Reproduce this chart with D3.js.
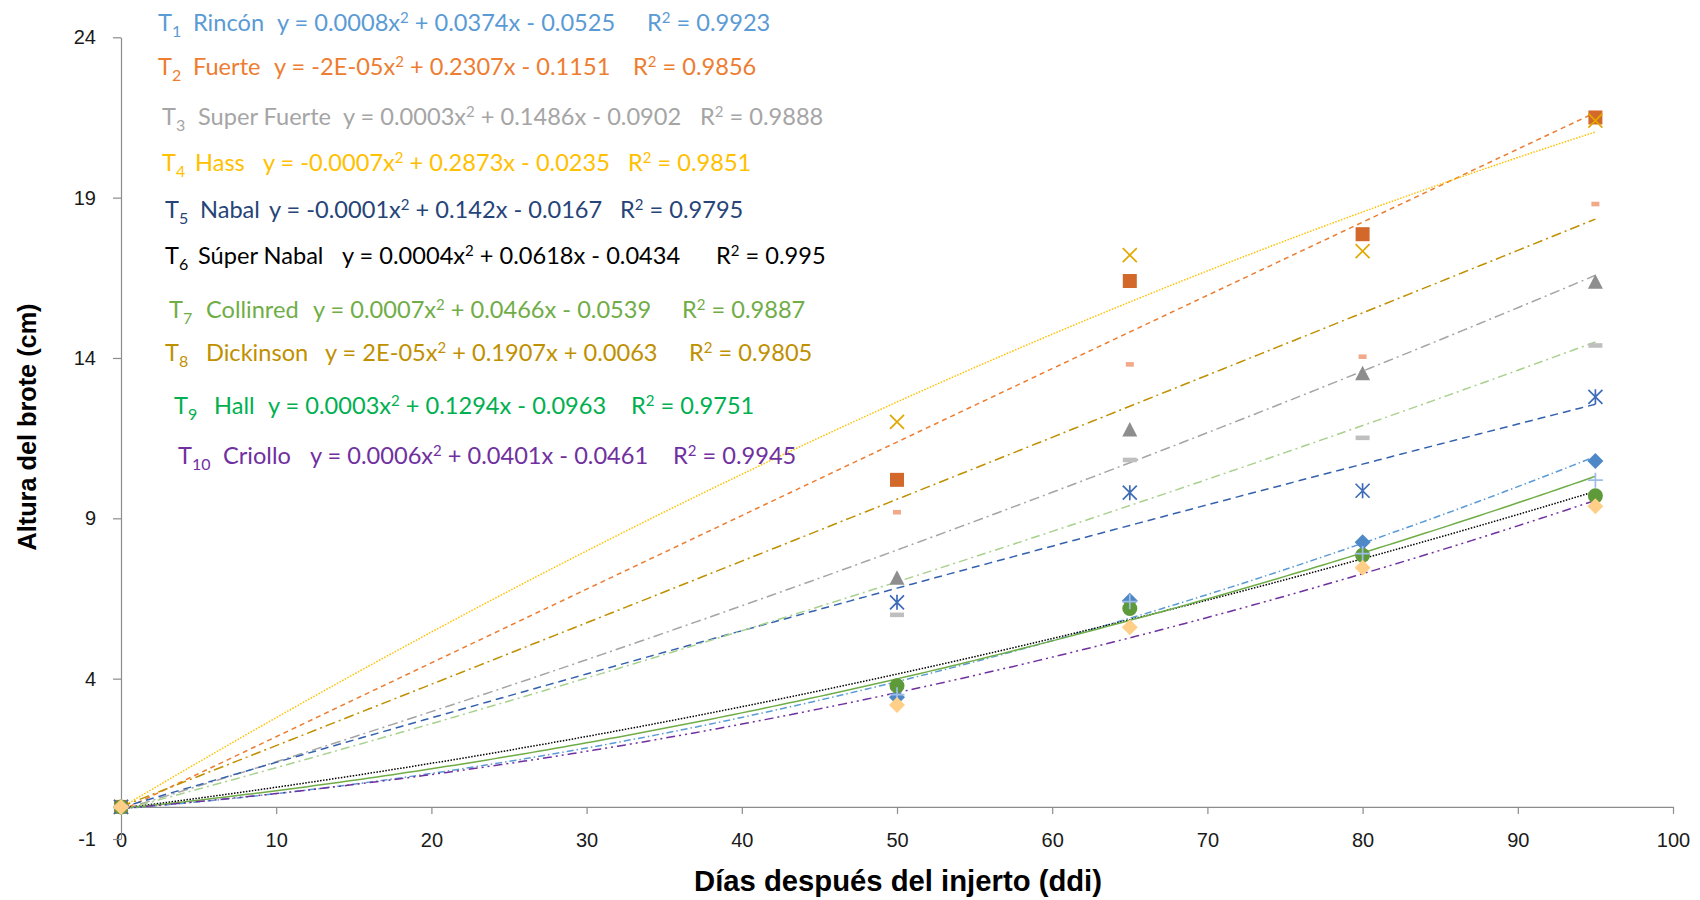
<!DOCTYPE html>
<html>
<head>
<meta charset="utf-8">
<script src="https://cdn.jsdelivr.net/npm/d3@7"></script>
<style>
body { margin: 0; background: #fff; }
svg { display: block; }
.tick text { font-family: "Liberation Sans", Arial, sans-serif; font-size: 20px; fill: #1a1a1a; }
.axisTitle { font-family: "Liberation Sans", Arial, sans-serif; font-weight: bold; fill: #000; }
.eq { font-family: Lato, "Noto Sans", sans-serif; font-size: 23.6px; white-space: pre; }
</style>
</head>
<body>
<svg id="chart" width="1700" height="900"></svg>
<script>

// ---- data ----
var days = [0, 50, 65, 80, 95];

var t1Rincon = [0, 3.42, 6.43, 8.25, 10.79];
var t2Fuerte = [0, 10.20, 16.40, 17.86, 21.50];
var t3SuperFuerte = [0, 7.15, 11.77, 13.52, 16.38];
var t4Hass = [0, 12.01, 17.21, 17.33, 21.40];
var t5Nabal = [0, 6.38, 9.80, 9.86, 12.79];
var t6SuperNabal = [0, 3.78, 6.19, 7.85, 9.70];
var t7Collinred = [0, 3.50, 6.40, 7.90, 10.19];
var t8Dickinson = [0, 9.19, 13.80, 14.04, 18.80];
var t9Hall = [0, 5.99, 10.82, 11.51, 14.39];
var t10Criollo = [0, 3.18, 5.60, 7.46, 9.38];

var seriesValues = [ t1Rincon, t2Fuerte, t3SuperFuerte, t4Hass, t5Nabal,
		t6SuperNabal, t7Collinred, t8Dickinson, t9Hall, t10Criollo ];

var seriesNames = [ "Rincón", "Fuerte", "Super Fuerte", "Hass", "Nabal",
		"Súper Nabal", "Collinred", "Dickinson", "Hall", "Criollo" ];

var equations = [ "y = 0.0008x^2 + 0.0374x - 0.0525",
		"y = -2E-05x^2 + 0.2307x - 0.1151",
		"y = 0.0003x^2 + 0.1486x - 0.0902",
		"y = -0.0007x^2 + 0.2873x - 0.0235",
		"y = -0.0001x^2 + 0.142x - 0.0167",
		"y = 0.0004x^2 + 0.0618x - 0.0434",
		"y = 0.0007x^2 + 0.0466x - 0.0539",
		"y = 2E-05x^2 + 0.1907x + 0.0063",
		"y = 0.0003x^2 + 0.1294x - 0.0963",
		"y = 0.0006x^2 + 0.0401x - 0.0461" ];

var rSquared = [ "0.9923", "0.9856", "0.9888", "0.9851", "0.9795", "0.995",
		"0.9887", "0.9805", "0.9751", "0.9945" ];

var xTicks = [ 0, 10, 20, 30, 40, 50, 60, 70, 80, 90, 100 ];
var yTicks = [ -1, 4, 9, 14, 19, 24 ];

// ---- styles ----
var markerShapes = [ "diamond", "square", "triangle", "x", "star", "circle",
		"plus", "dashShort", "dashLong", "diamond" ];
var markerColors = [ "#4f88c6", "#d2692b", "#8e8e8e", "#e3a800", "#3e6cb8",
		"#5e9a3a", "#9dbde6", "#f2a98a", "#bfbfbf", "#ffcf87" ];
var lineColors = [ "#5b9bd5", "#ed7d31", "#a5a5a5", "#ffc000", "#3461ad",
		"#000000", "#70ad47", "#bf9000", "#a9d18e", "#7030a0" ];
var lineDash = [ "7,3,1.5,3", "5,4", "10,4,2,4", "1.5,1.5", "8,5", "1.5,1.5",
		null, "10,4,2,4", "9,4,2,4", "9,4,2,4,2,4" ];
var labelColors = [ "#5b9bd5", "#ed7d31", "#a5a5a5", "#ffc000", "#264478",
		"#000000", "#70ad47", "#bf9000", "#00b050", "#7030a0" ];

// label layout: [centre y, x of T, x of name, x of equation, x of R2]
var labelLayout = [ [ 23, 158, 193, 277, 647 ], [ 67, 158, 193, 274, 633 ],
		[ 117, 162, 198, 343, 700 ], [ 163, 162, 195, 263, 628 ],
		[ 210, 165, 200, 269, 620 ], [ 256, 165, 198, 342, 716 ],
		[ 310, 169, 206, 313, 682 ], [ 353, 165, 206, 325, 689 ],
		[ 406, 174, 214, 268, 631 ], [ 456, 178, 223, 310, 673 ] ];

var svg = d3.select("#chart");

var x = d3.scaleLinear().domain([ 0, 100 ]).range([ 121, 1673 ]);
var y = d3.scaleLinear().domain([ -1, 24 ]).range([ 839, 37.3 ]);

// least squares quadratic, what the spreadsheet trendline does
function polyFit2(xs, ys) {

	var s = [ 0, 0, 0, 0, 0 ], t = [ 0, 0, 0 ];
	xs.forEach(function(xi, i) {
		for ( var k = 0; k < 5; k++) {
			s[k] += Math.pow(xi, k);
		}
		for ( var k = 0; k < 3; k++) {
			t[k] += Math.pow(xi, k) * ys[i];
		}
	});

	var m = [ [ s[0], s[1], s[2], t[0] ], [ s[1], s[2], s[3], t[1] ],
			[ s[2], s[3], s[4], t[2] ] ];

	for ( var c = 0; c < 3; c++) {
		for ( var r = c + 1; r < 3; r++) {
			var f = m[r][c] / m[c][c];
			for ( var j = c; j < 4; j++) {
				m[r][j] -= f * m[c][j];
			}
		}
	}
	var coef = [ 0, 0, 0 ];
	for ( var r = 2; r >= 0; r--) {
		var v = m[r][3];
		for ( var j = r + 1; j < 3; j++) {
			v -= m[r][j] * coef[j];
		}
		coef[r] = v / m[r][r];
	}
	return coef; // c0 + c1 x + c2 x^2
}// END: polyFit2

// ---- axes ----
var xAxis = d3.axisBottom(x).tickValues(xTicks).tickSize(7).tickSizeOuter(0)
		.tickPadding(19).tickFormat(String);
var gx = svg.append("g").attr("transform", "translate(0," + y(0) + ")").call(
		xAxis);

var yAxis = d3.axisLeft(y).tickValues(yTicks).tickSize(8).tickSizeOuter(0)
		.tickPadding(17).tickFormat(String);
var gy = svg.append("g").attr("transform", "translate(" + x(0) + ",0)").call(
		yAxis);

[ gx, gy ].forEach(function(g) {
	g.select(".domain").attr("stroke", "#8c8c8c").attr("stroke-width", 1.2);
	g.selectAll(".tick line").attr("stroke", "#8c8c8c").attr("stroke-width",
			1.2);
});

svg.append("text").attr("class", "axisTitle").attr("transform",
		"translate(27,427) rotate(-90)").attr("text-anchor", "middle").attr(
		"dy", "0.35em").attr("font-size", "26px").attr("textLength", 247)
		.attr("lengthAdjust", "spacingAndGlyphs").text("Altura del brote (cm)");

svg.append("text").attr("class", "axisTitle").attr("x", 898).attr("y", 881)
		.attr("text-anchor", "middle").attr("dy", "0.35em").attr("font-size",
				"29px").attr("textLength", 408).attr("lengthAdjust",
				"spacingAndGlyphs").text("Días después del injerto (ddi)");

// ---- trendlines ----
var lineGen = d3.line().x(function(d) {
	return x(d[0]);
}).y(function(d) {
	return y(d[1]);
});

var xs = d3.range(0, 95.001, 0.5);

seriesValues.forEach(function(vals, i) {

	var c = polyFit2(days, vals);
	var pts = xs.map(function(xv) {
		return [ xv, c[0] + c[1] * xv + c[2] * xv * xv ];
	});

	svg.append("path").attr("d", lineGen(pts)).attr("fill", "none").attr(
			"stroke", lineColors[i]).attr("stroke-width", 1.5).attr(
			"stroke-dasharray", lineDash[i]);
});

// ---- markers ----
function drawMarker(g, shape, color) {

	if (shape == "diamond") {
		g.append("path").attr("d", "M0,-8L8,0L0,8L-8,0Z").attr("fill", color);
	} else if (shape == "square") {
		g.append("rect").attr("x", -7).attr("y", -7).attr("width", 14).attr(
				"height", 14).attr("fill", color);
	} else if (shape == "triangle") {
		g.append("path").attr("d", "M0,-7.5L7.5,7L-7.5,7Z").attr("fill", color);
	} else if (shape == "circle") {
		g.append("circle").attr("r", 7.5).attr("fill", color);
	} else if (shape == "dashShort") {
		g.append("rect").attr("x", -4).attr("y", -2.3).attr("width", 8).attr(
				"height", 4.6).attr("fill", color);
	} else if (shape == "dashLong") {
		g.append("rect").attr("x", -7).attr("y", -2.3).attr("width", 14).attr(
				"height", 4.6).attr("fill", color);
	} else {
		var d = "";
		if (shape == "x" || shape == "star") {
			d += "M-7,-7L7,7M-7,7L7,-7";
		}
		if (shape == "star" || shape == "plus") {
			d += "M0,-7.5L0,7.5";
		}
		if (shape == "plus") {
			d += "M-7.5,0L7.5,0";
		}
		g.append("path").attr("d", d).attr("fill", "none").attr("stroke",
				color).attr("stroke-width", 1.7);
	}
}// END: drawMarker

seriesValues.forEach(function(vals, i) {

	var pts = svg.append("g").selectAll("g").data(vals).enter().append("g")
			.attr("transform", function(d, j) {
				return "translate(" + x(days[j]) + "," + y(d) + ")";
			});

	pts.each(function() {
		drawMarker(d3.select(this), markerShapes[i], markerColors[i]);
	});
});

// ---- equation labels ----
function addEquation(textSel, eq) {

	var parts = eq.split("^2");
	parts.forEach(function(p, k) {
		var ts = textSel.append("tspan").text(p);
		if (k > 0) {
			ts.attr("dy", 8);
		}
		if (k < parts.length - 1) {
			textSel.append("tspan").attr("dy", -8).attr("font-size", "15px")
					.text("2");
		}
	});
}// END: addEquation

seriesNames.forEach(function(name, i) {

	var lay = labelLayout[i];
	var g = svg.append("g").attr("class", "eq").attr("fill", labelColors[i]);

	var tt = g.append("text").attr("x", lay[1]).attr("y", lay[0]).attr("dy",
			"0.35em");
	tt.append("tspan").text("T");
	tt.append("tspan").attr("dy", 6).attr("font-size", "16px").text(
			String(i + 1));

	g.append("text").attr("x", lay[2]).attr("y", lay[0]).attr("dy", "0.35em")
			.text(name);

	var te = g.append("text").attr("x", lay[3]).attr("y", lay[0]).attr("dy",
			"0.35em");
	addEquation(te, equations[i]);

	var tr = g.append("text").attr("x", lay[4]).attr("y", lay[0]).attr("dy",
			"0.35em");
	tr.append("tspan").text("R");
	tr.append("tspan").attr("dy", -8).attr("font-size", "15px").text("2");
	tr.append("tspan").attr("dy", 8).text(" = " + rSquared[i]);
});

</script>
</body>
</html>
